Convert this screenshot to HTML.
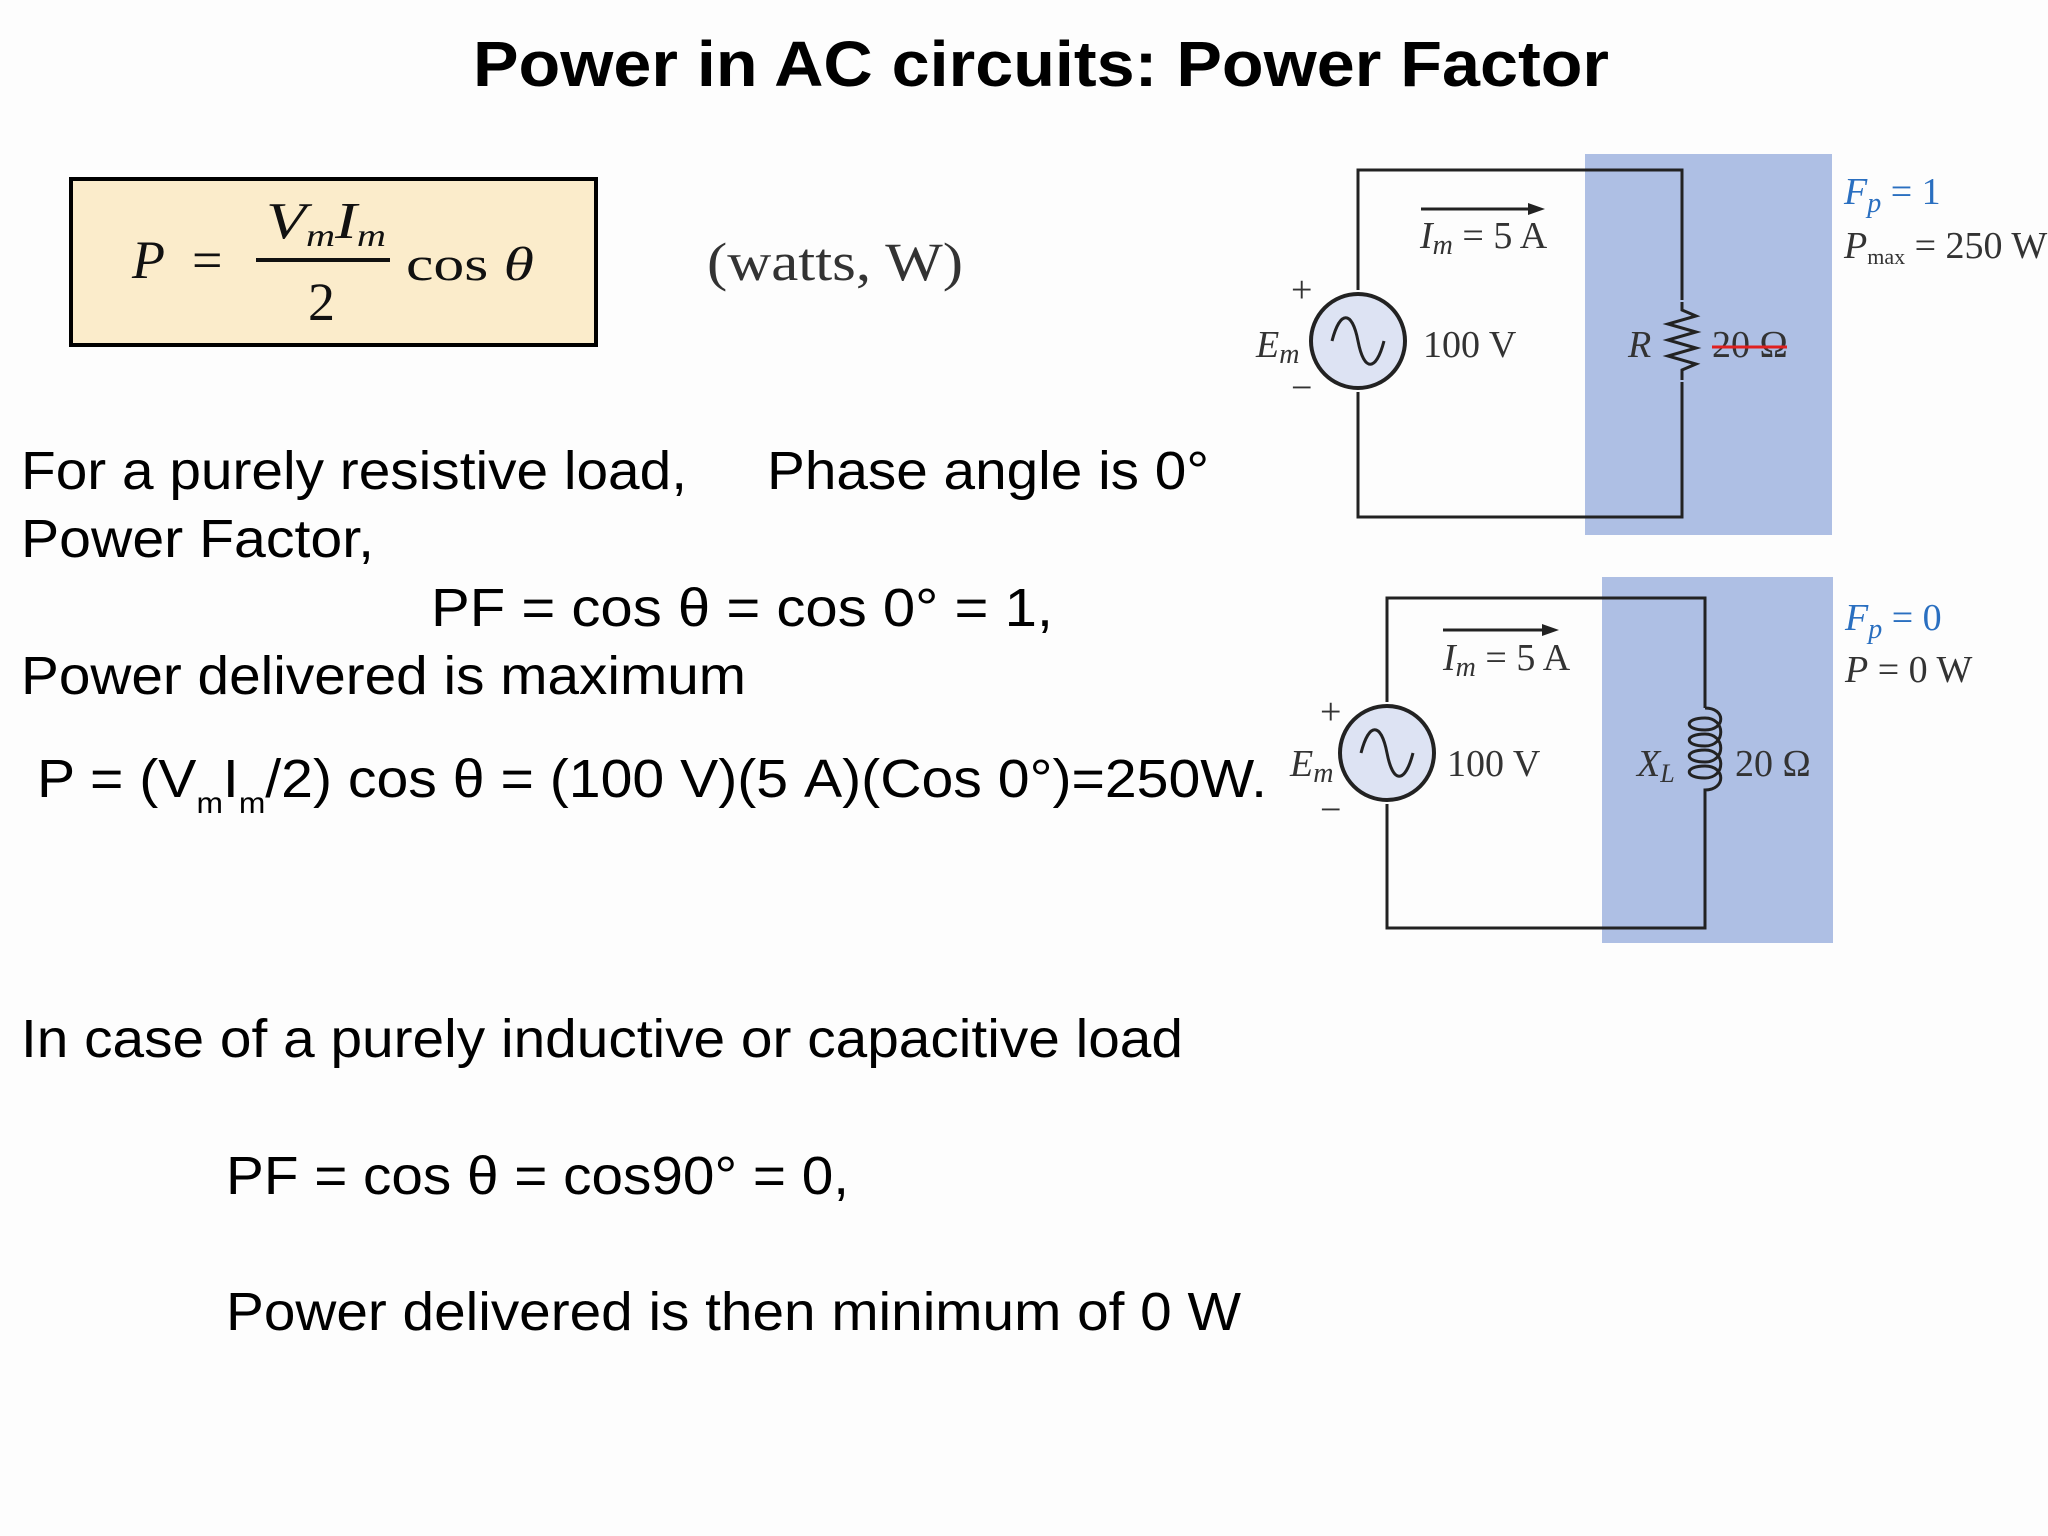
<!DOCTYPE html>
<html><head><meta charset="utf-8"><style>
html,body{margin:0;padding:0;background:#fdfdfd;}
svg{display:block;}
.b{font-family:"Liberation Sans",sans-serif;font-size:54px;fill:#000;}
.s{font-family:"Liberation Serif",serif;font-size:38px;fill:#333;}
.i{font-style:italic;}
</style></head><body>
<svg width="2048" height="1536" viewBox="0 0 2048 1536" xmlns="http://www.w3.org/2000/svg">
<rect width="2048" height="1536" fill="#fdfdfd"/>
<text x="1041" y="86" text-anchor="middle" font-family="Liberation Sans, sans-serif" font-weight="bold" font-size="64" textLength="1136" lengthAdjust="spacingAndGlyphs">Power in AC circuits: Power Factor</text>

<!-- formula box -->
<rect x="71" y="179" width="525" height="166" fill="#fbeccb" stroke="#000" stroke-width="4"/>
<g font-family="Liberation Serif, serif" fill="#111">
<text x="132" y="278" font-size="54" font-style="italic">P</text>
<text x="192" y="278" font-size="54">=</text>
<text x="266" y="238" font-size="52" font-style="italic" textLength="120" lengthAdjust="spacingAndGlyphs">V<tspan font-size="32" dy="8">m</tspan><tspan dy="-8">I</tspan><tspan font-size="32" dy="8">m</tspan></text>
<line x1="256" y1="260" x2="390" y2="260" stroke="#111" stroke-width="4"/>
<text x="308" y="320" font-size="54">2</text>
<text x="406" y="280" font-size="48" textLength="128" lengthAdjust="spacingAndGlyphs">cos <tspan font-style="italic">θ</tspan></text>
<text x="707" y="280" font-size="54" fill="#333" textLength="256" lengthAdjust="spacingAndGlyphs">(watts, W)</text>
</g>

<!-- body text -->
<text class="b" x="21" y="489" textLength="666" lengthAdjust="spacingAndGlyphs">For a purely resistive load,</text>
<text class="b" x="767" y="489" textLength="442" lengthAdjust="spacingAndGlyphs">Phase angle is 0°</text>
<text class="b" x="21" y="557" textLength="353" lengthAdjust="spacingAndGlyphs">Power Factor,</text>
<text class="b" x="431" y="626" textLength="622" lengthAdjust="spacingAndGlyphs">PF =  cos θ = cos 0° = 1,</text>
<text class="b" x="21" y="694" textLength="725" lengthAdjust="spacingAndGlyphs">Power delivered is maximum</text>
<text class="b" x="37" y="797" textLength="1230" lengthAdjust="spacingAndGlyphs">P = (V<tspan font-size="30" dy="16">m</tspan><tspan dy="-16">I</tspan><tspan font-size="30" dy="16">m</tspan><tspan dy="-16">/2) cos θ = (100 V)(5 A)(Cos 0°)=250W.</tspan></text>
<text class="b" x="21" y="1057" textLength="1162" lengthAdjust="spacingAndGlyphs">In case of a purely inductive or capacitive load</text>
<text class="b" x="226" y="1194" textLength="623" lengthAdjust="spacingAndGlyphs">PF = cos θ = cos90° = 0,</text>
<text class="b" x="226" y="1330" textLength="1015" lengthAdjust="spacingAndGlyphs">Power delivered is then minimum of 0 W</text>

<!-- circuit 1 -->
<rect x="1585" y="154" width="247" height="381" fill="#aebfe4"/>
<rect x="1358" y="170" width="324" height="347" fill="none" stroke="#222" stroke-width="3"/>
<line x1="1682" y1="300" x2="1682" y2="382" stroke="#aebfe4" stroke-width="6"/>
<polyline points="1682,302 1682,310 1696,316 1668,324 1696,332 1668,340 1696,348 1668,356 1696,364 1682,370 1682,380" fill="none" stroke="#222" stroke-width="3"/>
<line x1="1358" y1="290" x2="1358" y2="392" stroke="#fdfdfd" stroke-width="6"/>
<circle cx="1358" cy="341" r="47" fill="#dde3f3" stroke="#222" stroke-width="4"/>
<path d="M1332,341 C1340,310 1352,310 1358,341 C1364,372 1376,372 1384,341" fill="none" stroke="#222" stroke-width="3"/>
<line x1="1421" y1="209" x2="1538" y2="209" stroke="#222" stroke-width="3"/>
<polygon points="1545,209 1528,203 1528,215" fill="#222"/>
<text class="s" x="1420" y="248"><tspan class="i">I<tspan font-size="28" dy="6">m</tspan></tspan><tspan dy="-6"> = 5 A</tspan></text>
<text class="s" x="1423" y="357">100 V</text>
<text class="s i" x="1256" y="357">E<tspan font-size="28" dy="6">m</tspan></text>
<text class="s" x="1291" y="302">+</text>
<text class="s" x="1291" y="400">−</text>
<text class="s i" x="1628" y="357">R</text>
<text class="s" x="1712" y="357">20 Ω</text>
<line x1="1712" y1="347" x2="1787" y2="347" stroke="#e02020" stroke-width="3"/>
<text class="s" x="1844" y="204" style="fill:#2a6fc0"><tspan class="i">F<tspan font-size="28" dy="8">p</tspan></tspan><tspan dy="-8"> = 1</tspan></text>
<text class="s" x="1844" y="258"><tspan class="i">P</tspan><tspan font-size="22" dy="6">max</tspan><tspan dy="-6"> = 250 W</tspan></text>

<!-- circuit 2 -->
<rect x="1602" y="577" width="231" height="366" fill="#aebfe4"/>
<rect x="1387" y="598" width="318" height="330" fill="none" stroke="#222" stroke-width="3"/>
<line x1="1705" y1="708" x2="1705" y2="800" stroke="#aebfe4" stroke-width="6"/>
<path d="M1705,708 C1726,708 1726,730 1705,730 C1684,730 1684,718 1705,718 C1726,718 1726,746 1705,746 C1684,746 1684,734 1705,734 C1726,734 1726,762 1705,762 C1684,762 1684,750 1705,750 C1726,750 1726,778 1705,778 C1684,778 1684,766 1705,766 C1726,766 1726,790 1705,790 L1705,800" fill="none" stroke="#222" stroke-width="3"/>
<line x1="1387" y1="702" x2="1387" y2="804" stroke="#fdfdfd" stroke-width="6"/>
<circle cx="1387" cy="753" r="47" fill="#dde3f3" stroke="#222" stroke-width="4"/>
<path d="M1361,753 C1369,722 1381,722 1387,753 C1393,784 1405,784 1413,753" fill="none" stroke="#222" stroke-width="3"/>
<line x1="1443" y1="630" x2="1552" y2="630" stroke="#222" stroke-width="3"/>
<polygon points="1559,630 1542,624 1542,636" fill="#222"/>
<text class="s" x="1443" y="670"><tspan class="i">I<tspan font-size="28" dy="6">m</tspan></tspan><tspan dy="-6"> = 5 A</tspan></text>
<text class="s" x="1447" y="776">100 V</text>
<text class="s i" x="1290" y="776">E<tspan font-size="28" dy="6">m</tspan></text>
<text class="s" x="1320" y="724">+</text>
<text class="s" x="1320" y="822">−</text>
<text class="s i" x="1637" y="776">X<tspan font-size="26" dy="6">L</tspan></text>
<text class="s" x="1735" y="776">20 Ω</text>
<text class="s" x="1845" y="630" style="fill:#2a6fc0"><tspan class="i">F<tspan font-size="28" dy="8">p</tspan></tspan><tspan dy="-8"> = 0</tspan></text>
<text class="s" x="1845" y="682"><tspan class="i">P</tspan> = 0 W</text>
</svg>
</body></html>
